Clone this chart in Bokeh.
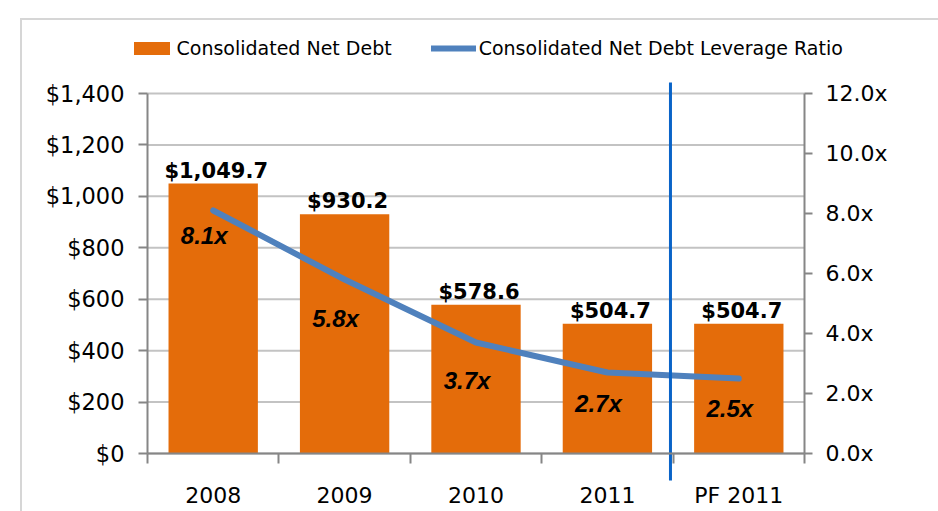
from bokeh.plotting import figure
from bokeh.models import Range1d, LinearAxis, FixedTicker, Legend, LegendItem
from bokeh.core.properties import value
from bokeh.embed import file_html
from bokeh.resources import INLINE

# ---- data ----
categories = ["2008", "2009", "2010", "2011", "PF 2011"]
net_debt = [1049.7, 930.2, 578.6, 504.7, 504.7]
leverage = [8.1, 5.8, 3.7, 2.7, 2.5]
debt_ticks = [0, 200, 400, 600, 800, 1000, 1200, 1400]
debt_tick_labels = ["$0", "$200", "$400", "$600", "$800", "$1,000", "$1,200", "$1,400"]
ratio_ticks = [0, 2, 4, 6, 8, 10, 12]
ratio_tick_labels = ["0.0x", "2.0x", "4.0x", "6.0x", "8.0x", "10.0x", "12.0x"]
series_names = ["Consolidated Net Debt", "Consolidated Net Debt Leverage Ratio"]

# ---- styling / layout ----
ORANGE = "#e46c0a"
BLUE = "#4f81bd"
DIVIDER = "#0a64c8"
AXIS = "#868686"
GRID = "#c3c3c3"
FONT = "DejaVu Sans"
ratio_label_dy = [25, 39, 38, 31, 30]   # px below the line point (label centre)
DEBT_MAX, RATIO_MAX = 1400, 12

# canvas and value-box geometry in px (the frame covers the whole canvas so nothing is clipped)
W, H = 916, 491
BOX_L, BOX_R, BOX_T, BOX_B = 125, 782, 73, 433
DIV_OVER_TOP, DIV_OVER_BOT = 11, 27      # divider overhang in px

n = len(categories)
xc = [i + 0.5 for i in range(n)]
debt_labels = [f"${v:,.1f}" for v in net_debt]
ratio_labels = [f"{r:.1f}x" for r in leverage]

ux = n / (BOX_R - BOX_L)
uy = DEBT_MAX / (BOX_B - BOX_T)
ur = RATIO_MAX / (BOX_B - BOX_T)

p = figure(frame_width=W, frame_height=H,
           x_range=Range1d(-BOX_L * ux, n + (W - BOX_R) * ux),
           y_range=Range1d(-(H - BOX_B) * uy, DEBT_MAX + BOX_T * uy),
           output_backend="svg", toolbar_location=None,
           min_border_left=0, min_border_top=0, min_border_right=0, min_border_bottom=0,
           margin=(18, 0, 0, 20))
p.styles = {"border-left": "2px solid #d6d6d6", "border-top": "2px solid #d6d6d6"}
p.outline_line_color = None
p.background_fill_color = "white"
p.border_fill_color = "white"
p.extra_y_ranges = {"ratio": Range1d(-(H - BOX_B) * ur, RATIO_MAX + BOX_T * ur)}
p.xgrid.visible = False
p.ygrid.visible = False

# x axis at $0: labels at category centres, tick marks at category boundaries
xa = p.xaxis[0]
xa.fixed_location = 0
xa.bounds = (0, n)
xa.ticker = FixedTicker(ticks=xc, minor_ticks=list(range(n + 1)))
xa.major_label_overrides = {xc[i]: categories[i] for i in range(n)}
xa.major_tick_line_color = None
xa.major_tick_out = 0
xa.major_tick_in = 0
xa.minor_tick_out = 10
xa.minor_tick_in = 0
xa.minor_tick_line_color = AXIS
xa.minor_tick_line_width = 2
xa.axis_line_color = AXIS
xa.axis_line_width = 2
xa.major_label_text_font = FONT
xa.major_label_text_font_size = "22px"
xa.major_label_text_color = "black"
xa.major_label_standoff = 19

# left axis
ya = p.yaxis[0]
ya.fixed_location = 0
ya.bounds = (0, DEBT_MAX)
ya.ticker = FixedTicker(ticks=debt_ticks, minor_ticks=[])
ya.major_label_overrides = {debt_ticks[i]: debt_tick_labels[i] for i in range(len(debt_ticks))}
ya.axis_line_color = AXIS
ya.axis_line_width = 2
ya.major_tick_line_color = AXIS
ya.major_tick_line_width = 2
ya.major_tick_out = 9
ya.major_tick_in = 0
ya.minor_tick_line_color = None
ya.major_label_text_font = FONT
ya.major_label_text_font_size = "22.5px"
ya.major_label_text_color = "black"
ya.major_label_standoff = 14

# right axis
ra = LinearAxis(y_range_name="ratio", ticker=FixedTicker(ticks=ratio_ticks, minor_ticks=[]),
                bounds=(0, RATIO_MAX), fixed_location=n)
ra.major_label_overrides = {ratio_ticks[i]: ratio_tick_labels[i] for i in range(len(ratio_ticks))}
ra.axis_line_color = AXIS
ra.axis_line_width = 2
ra.major_tick_line_color = AXIS
ra.major_tick_line_width = 2
ra.major_tick_out = 8
ra.major_tick_in = 0
ra.minor_tick_line_color = None
ra.major_label_text_font = FONT
ra.major_label_text_font_size = "22px"
ra.major_label_text_color = "black"
ra.major_label_standoff = 13
p.add_layout(ra, "right")

# horizontal gridlines between the two value axes
p.segment(x0=0, x1=n, y0=debt_ticks, y1=debt_ticks, line_color=GRID, line_width=2)

# bars
bars = p.vbar(x=xc, top=net_debt, width=0.68, fill_color=ORANGE, line_color=None)

# leverage line
line = p.line(x=xc, y=leverage, y_range_name="ratio", line_color=BLUE, line_width=6,
              line_cap="round", line_join="round")

# divider between 2011 and PF 2011
div_x = n - 1 - 0.02
p.segment(x0=div_x, x1=div_x, y0=-DIV_OVER_BOT * uy, y1=DEBT_MAX + DIV_OVER_TOP * uy,
          line_color=DIVIDER, line_width=3)

# data labels
p.text(x=xc, y=net_debt, text=debt_labels, text_font=value(FONT), text_font_style="bold",
       text_font_size="21px", text_align="center", text_baseline="alphabetic",
       x_offset=3, y_offset=-13, text_color="black")
p.text(x=xc, y=leverage, y_range_name="ratio", text=ratio_labels,
       text_font=value("Liberation Sans"), text_font_style="bold italic",
       text_font_size="24px", text_align="center", text_baseline="middle",
       x_offset=-9, y_offset=ratio_label_dy, text_color="black")

legend = Legend(items=[LegendItem(label=series_names[0], renderers=[bars]),
                       LegendItem(label=series_names[1], renderers=[line])],
                location=(106.5, 452.5), orientation="horizontal",
                glyph_width=45, glyph_height=16, label_height=22, label_standoff=3,
                spacing=39, padding=0, margin=0,
                border_line_color=None, background_fill_alpha=0,
                label_text_font=FONT, label_text_font_size="19px", label_text_color="black")
p.add_layout(legend)

open("out.html", "w").write(file_html(p, INLINE))
